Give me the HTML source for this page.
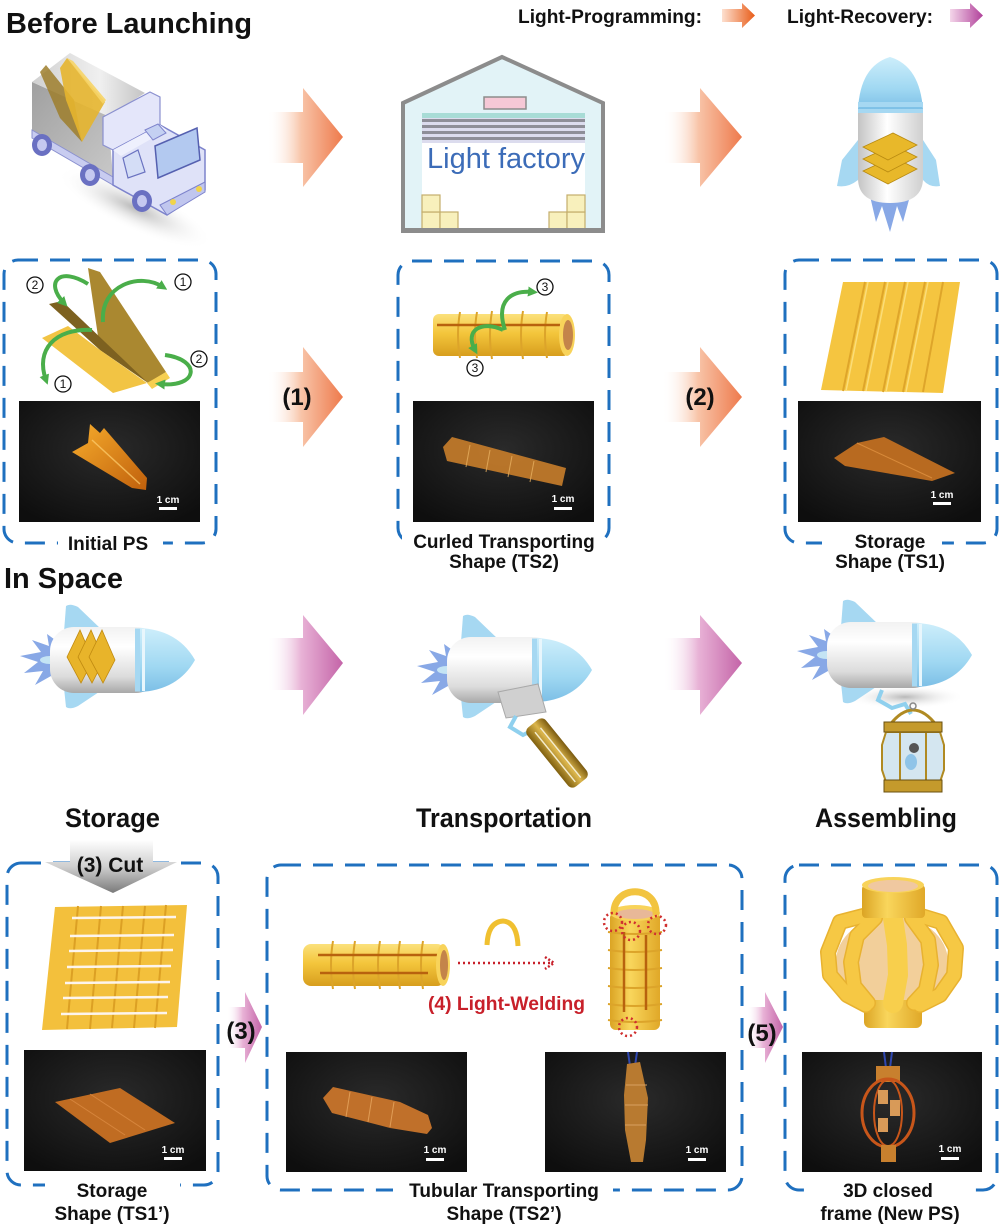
<!DOCTYPE html>
<html><head><meta charset="utf-8">
<style>
html,body{margin:0;padding:0;background:#fff;}
svg{display:block;}
text{font-family:"Liberation Sans",Arial,sans-serif;font-weight:bold;fill:#111;}
.lb{font-size:19px;text-anchor:middle;}
.sc{font-size:10px;fill:#fff;text-anchor:middle;}
.cn{font-size:12px;font-weight:normal;text-anchor:middle;}
</style></head><body>
<svg width="1000" height="1228" viewBox="0 0 1000 1228" xmlns="http://www.w3.org/2000/svg">
<defs>
 <linearGradient id="gOr" x1="0" y1="0" x2="1" y2="0">
  <stop offset="0" stop-color="#fff" stop-opacity="0"/>
  <stop offset="0.45" stop-color="#f8c4a8"/>
  <stop offset="1" stop-color="#ee7a4c"/>
 </linearGradient>
 <linearGradient id="gPu" x1="0" y1="0" x2="1" y2="0">
  <stop offset="0" stop-color="#fff" stop-opacity="0"/>
  <stop offset="0.45" stop-color="#e8b2d6"/>
  <stop offset="1" stop-color="#c464a8"/>
 </linearGradient>
 <linearGradient id="gOr2" x1="0" y1="0" x2="1" y2="0">
  <stop offset="0" stop-color="#fde0d0"/>
  <stop offset="1" stop-color="#e85c18"/>
 </linearGradient>
 <linearGradient id="gPu2" x1="0" y1="0" x2="1" y2="0">
  <stop offset="0" stop-color="#f4d6ea"/>
  <stop offset="1" stop-color="#b0409a"/>
 </linearGradient>
 <linearGradient id="gGrayArr" x1="0" y1="0" x2="0" y2="1">
  <stop offset="0" stop-color="#ffffff"/>
  <stop offset="0.5" stop-color="#cfcfcf"/>
  <stop offset="1" stop-color="#7a7a7a"/>
 </linearGradient>
 <linearGradient id="gGray" x1="0" y1="0" x2="1" y2="1">
  <stop offset="0" stop-color="#a0a0a0"/>
  <stop offset="1" stop-color="#c8c8c8"/>
 </linearGradient>
 <linearGradient id="gGrayTop" x1="0" y1="0" x2="1" y2="0">
  <stop offset="0" stop-color="#d0d0d0"/>
  <stop offset="0.6" stop-color="#f0f0f0"/>
  <stop offset="1" stop-color="#c4c4c4"/>
 </linearGradient>
 <radialGradient id="gShadow" cx="0.5" cy="0.5" r="0.5">
  <stop offset="0" stop-color="#9a9a9a" stop-opacity="0.7"/>
  <stop offset="1" stop-color="#ffffff" stop-opacity="0"/>
 </radialGradient>
 <linearGradient id="gRkB" x1="0" y1="0" x2="0" y2="1">
  <stop offset="0" stop-color="#f2f2f2"/>
  <stop offset="0.3" stop-color="#ffffff"/>
  <stop offset="0.75" stop-color="#dcdcdc"/>
  <stop offset="1" stop-color="#a8a8a8"/>
 </linearGradient>
 <linearGradient id="gRkN" x1="0" y1="0" x2="0" y2="1">
  <stop offset="0" stop-color="#cdeefb"/>
  <stop offset="0.6" stop-color="#a0d8f2"/>
  <stop offset="1" stop-color="#7cbfe6"/>
 </linearGradient>
 <linearGradient id="gRkV" x1="0" y1="0" x2="1" y2="0">
  <stop offset="0" stop-color="#c4c4c4"/>
  <stop offset="0.45" stop-color="#ffffff"/>
  <stop offset="1" stop-color="#cfcfcf"/>
 </linearGradient>
 <linearGradient id="gCylH" x1="0" y1="0" x2="0" y2="1">
  <stop offset="0" stop-color="#fbe17c"/>
  <stop offset="0.45" stop-color="#f4c63c"/>
  <stop offset="1" stop-color="#d79e1e"/>
 </linearGradient>
 <linearGradient id="gCylV" x1="0" y1="0" x2="1" y2="0">
  <stop offset="0" stop-color="#dba424"/>
  <stop offset="0.4" stop-color="#f9d65c"/>
  <stop offset="1" stop-color="#e0a828"/>
 </linearGradient>
 <linearGradient id="gGoldV" x1="0" y1="0" x2="0" y2="1">
  <stop offset="0" stop-color="#7a5a10"/>
  <stop offset="0.45" stop-color="#dcb64c"/>
  <stop offset="1" stop-color="#80600f"/>
 </linearGradient>
 <radialGradient id="gPh" cx="0.5" cy="0.4" r="0.7">
  <stop offset="0" stop-color="#2a2a2a"/>
  <stop offset="1" stop-color="#0e0e0e"/>
 </radialGradient>
 <linearGradient id="gPhO" x1="0" y1="0" x2="1" y2="1">
  <stop offset="0" stop-color="#f6ac2c"/>
  <stop offset="1" stop-color="#c0600c"/>
 </linearGradient>
 <marker id="gh" markerWidth="10" markerHeight="10" refX="5" refY="5" orient="auto" markerUnits="userSpaceOnUse">
  <path d="M0,0 L10,5 L0,10 Z" fill="#4aae4a"/>
 </marker>
 <g id="rk">
  <polygon points="58,642 47,634 49,646 32,640 41,652 20,656 38,662 24,673 43,671 35,685 51,676 58,682" fill="#88a8e6"/>
  <ellipse cx="50" cy="660" rx="10" ry="4" fill="#c4e4f4"/>
  <path d="M64,632 L66,606 Q70,603 78,607 L102,630 Z" fill="#a6d8f2"/>
  <path d="M64,688 L66,707 Q70,710 78,706 L102,690 Z" fill="#a6d8f2"/>
  <rect x="50" y="627" width="110" height="66" rx="24" fill="url(#gRkB)"/>
  <path d="M140,628 Q178,630 195,660 Q178,690 140,692 Z" fill="url(#gRkN)"/>
  <rect x="135" y="628.5" width="5" height="63" fill="#a6d8f2"/>
  <rect x="142" y="629" width="3" height="62" fill="#e8f6fc"/>
 </g>
</defs>

<!-- ===== Header ===== -->
<text x="6" y="33" font-size="29" textLength="246" lengthAdjust="spacingAndGlyphs">Before Launching</text>
<text x="518" y="23" font-size="19" textLength="184" lengthAdjust="spacingAndGlyphs">Light-Programming:</text>
<path d="M722,9 H742 V3 L755,15.5 L742,28 V22 H722 Z" fill="url(#gOr2)"/>
<text x="787" y="23" font-size="19" textLength="146" lengthAdjust="spacingAndGlyphs">Light-Recovery:</text>
<path d="M950,9 H970 V3 L983,15.5 L970,28 V22 H950 Z" fill="url(#gPu2)"/>

<!-- ===== Row 1 : truck ===== -->
<ellipse cx="135" cy="208" rx="85" ry="22" transform="rotate(25 135 208)" fill="url(#gShadow)"/>
<polygon points="32,82 108,116 113,177 32,130" fill="url(#gGray)"/>
<polygon points="32,82 70,53 145,93 108,116" fill="url(#gGrayTop)"/>
<polygon points="32,130 113,177 113,185 32,138" fill="#c8ccf0" stroke="#8a90cf" stroke-width="1"/>
<polygon points="40,72 46,65 74,100 82,142 60,118" fill="#9d7e2c" opacity="0.85"/>
<polygon points="60,68 67,58 105,102 82,142 66,100" fill="#e6b52e" opacity="0.9"/>
<polygon points="67,58 73,61 106,100 103,104" fill="#f6d466" opacity="0.9"/>
<!-- cab -->
<polygon points="103,117 150,92 160,97 160,125 113,150 103,145" fill="#e4e6fa" stroke="#8a90cf" stroke-width="1.2"/>
<polygon points="113,150 160,125 205,150 205,190 167,215 113,185" fill="#dfe2f8" stroke="#7d83cc" stroke-width="1.5"/>
<polygon points="113,150 160,125 167,130 121,156" fill="#eef0fd"/>
<polygon points="155,146 197,128 200,160 158,178" fill="#b3c9f0" stroke="#5560b0" stroke-width="1.5"/>
<polygon points="123,158 138,150 145,172 128,178" fill="#d4ddf6" stroke="#6a72c0" stroke-width="1.2"/>
<polygon points="145,130 158,124 166,133 153,140" fill="#c4d0f2" stroke="#7d83cc" stroke-width="1"/>
<polygon points="160,205 205,182 205,192 167,215" fill="#c0c6ee" stroke="#7d83cc" stroke-width="1"/>
<circle cx="173" cy="202" r="3" fill="#f1d44a"/>
<circle cx="199" cy="189" r="3" fill="#f1d44a"/>
<ellipse cx="42" cy="145" rx="10" ry="11" fill="#6a70c2"/><ellipse cx="42" cy="145" rx="5" ry="6" fill="#c5c8f0"/>
<ellipse cx="90" cy="175" rx="10" ry="11" fill="#6a70c2"/><ellipse cx="90" cy="175" rx="5" ry="6" fill="#c5c8f0"/>
<ellipse cx="142" cy="201" rx="10" ry="11" fill="#6a70c2"/><ellipse cx="142" cy="201" rx="5" ry="6" fill="#c5c8f0"/>

<!-- arrows row 1 -->
<path d="M267,112 H303 V88 L343,137 L303,187 V163 H267 Z" fill="url(#gOr)"/>
<path d="M663,112 H700 V88 L742,137 L700,187 V163 H663 Z" fill="url(#gOr)"/>

<!-- factory -->
<polygon points="403,103 502,57 603,103 603,231 403,231" fill="#e2f3f7" stroke="#8c8c8c" stroke-width="4"/>
<rect x="422" y="115" width="163" height="115" fill="#ffffff"/>
<rect x="422" y="113" width="163" height="5" fill="#a8dcd6"/>
<rect x="422" y="118" width="163" height="25" fill="#dcdcee"/>
<rect x="422" y="119" width="163" height="3" fill="#8e8e98"/>
<rect x="422" y="125" width="163" height="3" fill="#8e8e98"/>
<rect x="422" y="131" width="163" height="3" fill="#8e8e98"/>
<rect x="422" y="137" width="163" height="3" fill="#8e8e98"/>
<rect x="484" y="97" width="42" height="12" fill="#f6c8d6" stroke="#8c8c8c" stroke-width="1.5"/>
<text x="427" y="168" font-size="29" style="font-weight:normal;fill:#3c6cb8" textLength="158" lengthAdjust="spacingAndGlyphs">Light factory</text>
<g fill="#f8f0bc" stroke="#c4ad6c" stroke-width="1.2">
 <rect x="422" y="212" width="18" height="17"/><rect x="440" y="212" width="18" height="17"/><rect x="422" y="195" width="18" height="17"/>
 <rect x="549" y="212" width="18" height="17"/><rect x="567" y="212" width="18" height="17"/><rect x="567" y="195" width="18" height="17"/>
</g>
<rect x="403" y="228" width="200" height="5" fill="#8c8c8c"/>

<!-- top rocket (vertical) -->
<polygon points="870,196 876,222 882,206 890,232 897,206 903,222 910,196" fill="#88a8e6"/>
<path d="M858,140 L842,160 L837,186 Q848,188 858,180 Z" fill="#a6d8f2"/>
<path d="M923,140 L936,160 L940,186 Q930,188 923,180 Z" fill="#a6d8f2"/>
<path d="M858,108 L923,108 L923,178 Q923,203 890,203 Q858,203 858,178 Z" fill="url(#gRkV)"/>
<path d="M858,110 Q860,66 890,57 Q920,66 923,110 Z" fill="url(#gRkN)"/>
<rect x="858" y="102" width="65" height="5" fill="#a6d8f2"/>
<rect x="858" y="109" width="65" height="4" fill="#a6d8f2"/>
<g fill="#e8b82a" stroke="#b88a10" stroke-width="0.8">
 <polygon points="863,171 893,157 917,169 888,184"/>
 <polygon points="863,159 893,145 917,157 888,172"/>
 <polygon points="863,147 893,133 917,145 888,160"/>
</g>

<!-- ===== Row 2 ===== -->
<g fill="none" stroke="#1f70bf" stroke-width="3" stroke-dasharray="20 12">
 <rect x="4" y="260" width="212" height="283" rx="14"/>
 <rect x="398" y="261" width="211" height="281" rx="14"/>
 <rect x="785" y="260" width="212" height="283" rx="14"/>
</g>
<!-- folded PS -->
<polygon points="88,268 100,272 166,372 148,383 100,350" fill="#aa8830"/>
<polygon points="49,304 62,301 147,382 100,350" fill="#7d6120"/>
<polygon points="42,338 68,326 100,350 147,383 113,393" fill="#f2c444"/>
<polygon points="147,383 166,372 170,378 152,389" fill="#f7cf50"/>
<g fill="none" stroke="#4aae4a" stroke-width="4">
 <path d="M103,322 C100,285 140,272 163,287" marker-end="url(#gh)"/>
 <path d="M88,284 C60,266 44,282 64,303" marker-end="url(#gh)"/>
 <path d="M92,330 C55,328 35,350 46,380" marker-end="url(#gh)"/>
 <path d="M165,355 C202,360 198,388 160,384" marker-end="url(#gh)"/>
</g>
<g fill="#fff" stroke="#111" stroke-width="1.3">
 <circle cx="183" cy="282" r="8"/><circle cx="35" cy="285" r="8"/><circle cx="63" cy="384" r="8"/><circle cx="199" cy="359" r="8"/>
 <circle cx="545" cy="287" r="8"/><circle cx="475" cy="368" r="8"/>
</g>
<text class="cn" x="183" y="286">1</text><text class="cn" x="35" y="289">2</text>
<text class="cn" x="63" y="388">1</text><text class="cn" x="199" y="363">2</text>
<text class="cn" x="545" y="291">3</text><text class="cn" x="475" y="372">3</text>

<!-- curled tube -->
<rect x="433" y="314" width="136" height="42" rx="6" fill="url(#gCylH)"/>
<g fill="none" stroke="#dca42a" stroke-width="2">
 <path d="M460,312 Q456,335 460,358"/><path d="M477,312 Q473,335 477,358"/><path d="M492,311 Q488,335 492,359"/>
 <path d="M523,311 Q519,335 523,359"/><path d="M547,312 Q543,335 547,358"/>
</g>
<line x1="437" y1="325" x2="560" y2="325" stroke="#b8620e" stroke-width="2.5"/>
<ellipse cx="567" cy="335" rx="8" ry="21" fill="#f8d35a"/>
<ellipse cx="568" cy="335" rx="5" ry="15" fill="#c4844a"/>
<g fill="none" stroke="#4aae4a" stroke-width="4">
 <path d="M505,330 C495,300 512,290 533,292" marker-end="url(#gh)"/>
 <path d="M503,330 C482,320 464,330 475,350" marker-end="url(#gh)"/>
</g>

<!-- storage sheet -->
<polygon points="843,282 960,282 943,393 821,390" fill="#f5c540"/>
<g stroke="#dea52a" stroke-width="2">
 <line x1="865" y1="282" x2="843" y2="391"/><line x1="885" y1="282" x2="863" y2="391"/>
 <line x1="905" y1="282" x2="883" y2="392"/><line x1="925" y1="282" x2="903" y2="392"/>
 <line x1="943" y1="282" x2="923" y2="392"/>
</g>
<g stroke="#fbdd78" stroke-width="1.5">
 <line x1="868" y1="282" x2="846" y2="391"/><line x1="888" y1="282" x2="866" y2="391"/>
 <line x1="908" y1="282" x2="886" y2="392"/><line x1="928" y1="282" x2="906" y2="392"/>
</g>

<!-- photos row 2 -->
<rect x="19" y="401" width="181" height="121" fill="url(#gPh)"/>
<polygon points="72,452 88,443 90,424 100,433 104,428 147,478 146,490 132,488" fill="url(#gPhO)"/>
<line x1="92" y1="440" x2="140" y2="484" stroke="#ffd070" stroke-width="1.5" opacity="0.7"/>
<text class="sc" x="168" y="503">1 cm</text><rect x="159" y="507" width="18" height="3" fill="#fff"/>

<rect x="413" y="401" width="181" height="121" fill="url(#gPh)"/>
<polygon points="443,447 452,437 566,468 562,486 447,461" fill="#c47c2a" opacity="0.92"/>
<g stroke="#e8b060" stroke-width="1" opacity="0.8"><line x1="470" y1="445" x2="466" y2="467"/><line x1="490" y1="450" x2="486" y2="472"/><line x1="512" y1="456" x2="508" y2="477"/><line x1="534" y1="461" x2="530" y2="482"/></g>
<text class="sc" x="563" y="502">1 cm</text><rect x="554" y="507" width="18" height="3" fill="#fff"/>

<rect x="798" y="401" width="183" height="121" fill="url(#gPh)"/>
<polygon points="834,458 857,443 884,437 955,473 932,481 845,466" fill="#b86a20"/>
<line x1="857" y1="443" x2="932" y2="478" stroke="#d88a3a" stroke-width="1"/>
<text class="sc" x="942" y="498">1 cm</text><rect x="933" y="502" width="18" height="3" fill="#fff"/>

<!-- arrows row 2 -->
<path d="M267,372 H303 V347 L343,397 L303,447 V422 H267 Z" fill="url(#gOr)"/>
<path d="M662,372 H700 V347 L742,397 L700,447 V422 H662 Z" fill="url(#gOr)"/>
<text x="297" y="405" font-size="24" text-anchor="middle">(1)</text>
<text x="700" y="405" font-size="24" text-anchor="middle">(2)</text>

<!-- labels row 2 -->
<rect x="58" y="535" width="105" height="16" fill="#fff"/>
<rect x="402" y="530" width="200" height="16" fill="#fff"/>
<rect x="822" y="530" width="120" height="16" fill="#fff"/>
<text class="lb" x="108" y="550">Initial PS</text>
<text class="lb" x="504" y="548">Curled Transporting</text>
<text class="lb" x="504" y="568">Shape (TS2)</text>
<text class="lb" x="890" y="548">Storage</text>
<text class="lb" x="890" y="568">Shape (TS1)</text>

<!-- ===== In Space ===== -->
<text x="4" y="588" font-size="29" textLength="119" lengthAdjust="spacingAndGlyphs">In Space</text>

<!-- rockets row 3 -->
<use href="#rk"/>
<g fill="#e8b42a" stroke="#c08a10" stroke-width="0.8">
 <polygon points="67,657 80,630 93,660 81,683"/>
 <polygon points="78,657 91,630 104,660 92,683"/>
 <polygon points="89,657 102,630 115,660 103,683"/>
</g>
<use href="#rk" transform="translate(397,10)"/>
<polygon points="498,692 538,684 546,712 506,718" fill="#d0d0d0" stroke="#a8a8a8" stroke-width="1"/>
<polyline points="516,716 510,727 523,735 533,730" fill="none" stroke="#8fd0ee" stroke-width="4"/>
<g transform="translate(557,753) rotate(51)">
 <rect x="-38" y="-12" width="76" height="24" rx="6" fill="url(#gGoldV)"/>
 <line x1="-30" y1="-3" x2="34" y2="-3" stroke="#f4eccc" stroke-width="1.5"/>
 <line x1="-30" y1="4" x2="34" y2="4" stroke="#f4eccc" stroke-width="1.5"/>
</g>
<ellipse cx="905" cy="697" rx="60" ry="12" fill="url(#gShadow)"/>
<use href="#rk" transform="translate(777,-5)"/>
<polyline points="882,690 878,700 892,708 905,704 911,714" fill="none" stroke="#8fd0ee" stroke-width="4"/>
<path d="M889,726 Q913,694 937,726" fill="none" stroke="#b08a22" stroke-width="3"/>
<circle cx="913" cy="706" r="3" fill="none" stroke="#888" stroke-width="1.5"/>
<polygon points="886,732 940,732 944,745 944,770 940,782 886,782 882,770 882,745" fill="#d4e6f0" stroke="#b08a22" stroke-width="2"/>
<g stroke="#b08a22" stroke-width="2"><line x1="900" y1="732" x2="900" y2="782"/><line x1="926" y1="732" x2="926" y2="782"/></g>
<circle cx="914" cy="748" r="5" fill="#555"/>
<ellipse cx="911" cy="762" rx="6" ry="8" fill="#8fc4e8"/>
<rect x="884" y="722" width="58" height="10" fill="#c49a2c" stroke="#6a5010" stroke-width="1"/>
<rect x="884" y="780" width="58" height="12" fill="#c49a2c" stroke="#6a5010" stroke-width="1"/>

<path d="M267,638 H303 V615 L343,663 L303,715 V690 H267 Z" fill="url(#gPu)"/>
<path d="M663,638 H700 V615 L742,663 L700,715 V690 H663 Z" fill="url(#gPu)"/>

<text x="65" y="827" font-size="27" textLength="95" lengthAdjust="spacingAndGlyphs">Storage</text>
<text x="416" y="827" font-size="27" textLength="176" lengthAdjust="spacingAndGlyphs">Transportation</text>
<text x="815" y="827" font-size="27" textLength="142" lengthAdjust="spacingAndGlyphs">Assembling</text>

<!-- ===== Row 4 ===== -->
<g fill="none" stroke="#1f70bf" stroke-width="3" stroke-dasharray="20 12">
 <rect x="7" y="863" width="211" height="322" rx="14"/>
 <rect x="267" y="865" width="475" height="325" rx="14"/>
 <rect x="785" y="865" width="212" height="325" rx="14"/>
</g>
<!-- cut arrow -->
<polygon points="70,840 153,840 153,862 177,862 113,893 45,862 70,862" fill="url(#gGrayArr)"/>
<text x="110" y="872" font-size="21" text-anchor="middle">(3) Cut</text>

<!-- cut sheet -->
<polygon points="55,907 187,905 177,1027 42,1030" fill="#f3c03c"/>
<g stroke="#dca024" stroke-width="2">
 <line x1="78" y1="906" x2="67" y2="1029"/><line x1="101" y1="906" x2="90" y2="1029"/>
 <line x1="123" y1="906" x2="112" y2="1028"/><line x1="145" y1="906" x2="134" y2="1028"/>
 <line x1="166" y1="905" x2="155" y2="1028"/>
</g>
<g stroke="#fdf4ec" stroke-width="2.5">
 <line x1="72" y1="918" x2="176" y2="917"/><line x1="70" y1="936" x2="174" y2="935"/>
 <line x1="69" y1="951" x2="173" y2="950"/><line x1="67" y1="967" x2="171" y2="966"/>
 <line x1="65" y1="983" x2="170" y2="982"/><line x1="63" y1="998" x2="168" y2="997"/>
 <line x1="61" y1="1014" x2="167" y2="1013"/>
</g>

<!-- tube box5 -->
<rect x="303" y="944" width="142" height="42" rx="8" fill="url(#gCylH)"/>
<g fill="none" stroke="#dca42a" stroke-width="2">
 <path d="M333,941 Q329,965 333,989"/><path d="M355,941 Q351,965 355,989"/><path d="M380,941 Q376,965 380,989"/>
 <path d="M400,941 Q396,965 400,989"/><path d="M423,941 Q419,965 423,989"/>
</g>
<line x1="318" y1="955" x2="438" y2="955" stroke="#b8620e" stroke-width="2.5"/>
<line x1="320" y1="973" x2="428" y2="973" stroke="#b8620e" stroke-width="2.5"/>
<ellipse cx="443" cy="965" rx="7" ry="21" fill="#f8d35a"/>
<ellipse cx="444" cy="965" rx="4" ry="15" fill="#c4844a"/>
<path d="M487,945 Q488,922 503,921 Q517,922 518,946" fill="none" stroke="#f0c030" stroke-width="5"/>
<line x1="458" y1="963" x2="551" y2="963" stroke="#c8202a" stroke-width="2.5" stroke-dasharray="2 3"/>
<polyline points="545,957 554,963 545,969" fill="none" stroke="#c8202a" stroke-width="2.5" stroke-dasharray="2 2"/>
<text x="428" y="1010" font-size="19.5" style="fill:#c8202a" textLength="157" lengthAdjust="spacingAndGlyphs">(4) Light-Welding</text>

<!-- vertical tube -->
<rect x="610" y="912" width="50" height="118" rx="6" fill="url(#gCylV)"/>
<g fill="none" stroke="#dca42a" stroke-width="2">
 <path d="M608,932 Q635,936 662,932"/><path d="M608,950 Q635,954 662,950"/><path d="M608,968 Q635,972 662,968"/>
 <path d="M608,986 Q635,990 662,986"/><path d="M608,1004 Q635,1008 662,1004"/><path d="M608,1020 Q635,1024 662,1020"/>
</g>
<line x1="624" y1="932" x2="624" y2="1012" stroke="#b8620e" stroke-width="2.5"/>
<line x1="646" y1="935" x2="646" y2="1010" stroke="#b8620e" stroke-width="2.5"/>
<ellipse cx="635" cy="913" rx="25" ry="8" fill="#f8d35a"/>
<ellipse cx="635" cy="914" rx="19" ry="5" fill="#e8b898"/>
<path d="M614,915 C612,884 658,884 656,915" fill="none" stroke="#f2c440" stroke-width="7"/>
<g fill="none" stroke="#d03030" stroke-width="2.5" stroke-dasharray="2 3">
 <circle cx="613" cy="922" r="9"/><circle cx="657" cy="925" r="9"/><circle cx="631" cy="931" r="9"/><circle cx="628" cy="1027" r="9"/>
</g>

<!-- lantern 3D -->
<ellipse cx="892" cy="962" rx="56" ry="46" fill="#f2cf9a"/>
<rect x="864" y="1000" width="58" height="28" rx="6" fill="url(#gCylV)"/>
<g fill="none" stroke-linejoin="round" stroke-linecap="round">
 <g stroke="#e8b230" stroke-width="16">
  <polyline points="867,915 840,922 828,952 830,975 847,995 866,1005"/>
  <polyline points="918,915 941,922 956,948 954,975 940,995 920,1005"/>
  <polyline points="875,918 857,936 851,962 854,986 868,1003"/>
  <polyline points="912,918 928,940 931,965 926,990 914,1003"/>
  <polyline points="893,918 897,945 898,975 893,1003"/>
 </g>
 <g stroke="#f6c844" stroke-width="13">
  <polyline points="867,915 840,922 828,952 830,975 847,995 866,1005"/>
  <polyline points="918,915 941,922 956,948 954,975 940,995 920,1005"/>
  <polyline points="875,918 857,936 851,962 854,986 868,1003"/>
  <polyline points="912,918 928,940 931,965 926,990 914,1003"/>
 </g>
 <polyline points="893,918 897,945 898,975 893,1003" stroke="#f8cf4c" stroke-width="20"/>
</g>
<rect x="862" y="885" width="63" height="33" rx="4" fill="url(#gCylV)"/>
<ellipse cx="893" cy="885" rx="31" ry="8" fill="#f8d35a"/>
<ellipse cx="893" cy="886" rx="25" ry="6" fill="#f0c8a0"/>

<!-- photos row 4 -->
<rect x="24" y="1050" width="182" height="121" fill="url(#gPh)"/>
<polygon points="55,1102 120,1088 175,1123 110,1143" fill="#c06c22"/>
<g stroke="#e09048" stroke-width="1" opacity="0.7"><line x1="70" y1="1099" x2="125" y2="1135"/><line x1="90" y1="1094" x2="145" y2="1130"/></g>
<text class="sc" x="173" y="1153">1 cm</text><rect x="164" y="1157" width="18" height="3" fill="#fff"/>

<rect x="286" y="1052" width="181" height="120" fill="url(#gPh)"/>
<polygon points="323,1098 333,1087 400,1102 428,1115 432,1128 427,1134 390,1128 332,1113" fill="#c0702a"/>
<g stroke="#e8a860" stroke-width="1" opacity="0.8"><line x1="350" y1="1092" x2="346" y2="1117"/><line x1="372" y1="1097" x2="368" y2="1122"/><line x1="394" y1="1102" x2="390" y2="1127"/></g>
<text class="sc" x="435" y="1153">1 cm</text><rect x="426" y="1158" width="18" height="3" fill="#fff"/>

<rect x="545" y="1052" width="181" height="120" fill="url(#gPh)"/>
<path d="M628,1052 L630,1066 M637,1052 L635,1066" stroke="#3048b0" stroke-width="2"/>
<polygon points="627,1064 640,1062 648,1098 646,1140 643,1162 631,1162 625,1130 624,1095" fill="#b87a30"/>
<g stroke="#d8a060" stroke-width="1"><line x1="626" y1="1085" x2="647" y2="1085"/><line x1="625" y1="1105" x2="648" y2="1105"/><line x1="625" y1="1125" x2="646" y2="1125"/></g>
<text class="sc" x="697" y="1153">1 cm</text><rect x="688" y="1158" width="18" height="3" fill="#fff"/>

<rect x="802" y="1052" width="180" height="120" fill="url(#gPh)"/>
<path d="M884,1052 L886,1068 M892,1052 L890,1068" stroke="#3048b0" stroke-width="2"/>
<rect x="876" y="1066" width="24" height="16" fill="#c8802e"/>
<ellipse cx="888" cy="1113" rx="26" ry="34" fill="none" stroke="#c8561a" stroke-width="3"/>
<ellipse cx="888" cy="1113" rx="14" ry="33" fill="none" stroke="#c8561a" stroke-width="2"/>
<rect x="878" y="1090" width="10" height="14" fill="#d89a58"/><rect x="890" y="1100" width="10" height="16" fill="#d89a58"/><rect x="878" y="1118" width="10" height="14" fill="#d89a58"/>
<rect x="881" y="1145" width="15" height="17" fill="#c8802e"/>
<text class="sc" x="950" y="1152">1 cm</text><rect x="941" y="1157" width="18" height="3" fill="#fff"/>

<!-- small purple arrows -->
<path d="M227,1007 H245 V992 L262,1027 L245,1063 V1048 H227 Z" fill="url(#gPu)"/>
<path d="M747,1007 H765 V992 L783,1027 L765,1063 V1048 H747 Z" fill="url(#gPu)"/>
<text x="241" y="1039" font-size="24" text-anchor="middle">(3)</text>
<text x="762" y="1041" font-size="24" text-anchor="middle">(5)</text>

<!-- labels row 4 -->
<rect x="45" y="1176" width="135" height="16" fill="#fff"/>
<rect x="393" y="1181" width="220" height="16" fill="#fff"/>
<rect x="814" y="1181" width="160" height="16" fill="#fff"/>
<text class="lb" x="112" y="1197">Storage</text>
<text class="lb" x="112" y="1220">Shape (TS1’)</text>
<text class="lb" x="504" y="1197">Tubular Transporting</text>
<text class="lb" x="504" y="1220">Shape (TS2’)</text>
<text class="lb" x="888" y="1197">3D closed</text>
<text class="lb" x="890" y="1220">frame (New PS)</text>
</svg>
</body></html>
